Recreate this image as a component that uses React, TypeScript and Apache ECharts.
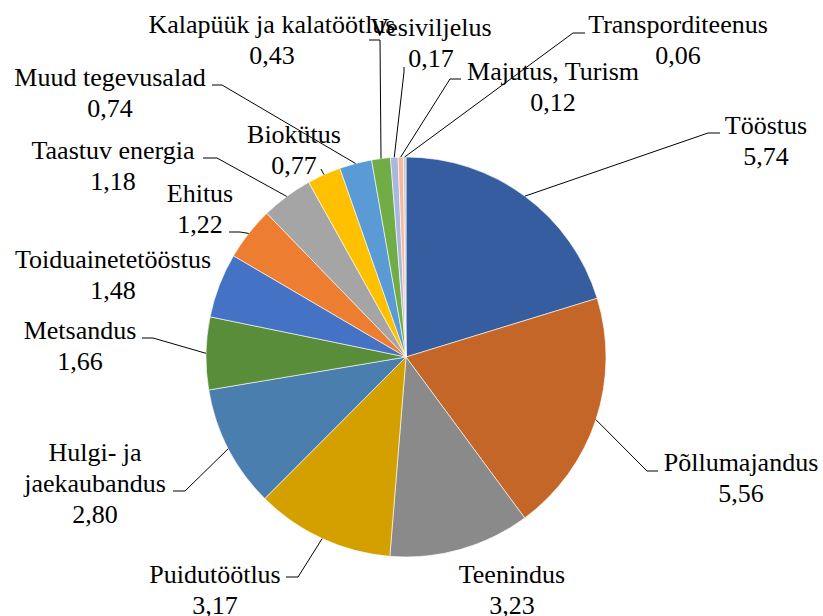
import React, { useEffect, useRef } from "react";
import * as echarts from "echarts";

const categories = [
  "Tööstus",
  "Põllumajandus",
  "Teenindus",
  "Puidutöötlus",
  "Hulgi- ja\njaekaubandus",
  "Metsandus",
  "Toiduainetetööstus",
  "Ehitus",
  "Taastuv energia",
  "Biokütus",
  "Muud tegevusalad",
  "Kalapüük ja kalatöötlus",
  "Vesiviljelus",
  "Majutus, Turism",
  "Transporditeenus",
];

const values = [5.74, 5.56, 3.23, 3.17, 2.8, 1.66, 1.48, 1.22, 1.18, 0.77, 0.74, 0.43, 0.17, 0.12, 0.06];

const colors = [
  "#365DA0", "#C46628", "#8A8A8A", "#D4A000", "#4A7EAF", "#5A8D3A", "#4472C4",
  "#ED7D31", "#A5A5A5", "#FFC000", "#5B9BD5", "#70AD47", "#A9B7DE", "#F4B8A0", "#C9C9C9",
];

// label block centres (layout only)
const labelPos: [number, number][] = [
  [766, 141], [741, 478], [512, 590], [215, 590], [95, 483], [80, 346], [113, 275],
  [200, 209], [113, 166], [294, 150], [110, 93], [272, 40], [431, 43], [553, 87], [678, 40],
];

// leader line elbows (layout only); null = no leader line
const leaderPts: ([number, number][] | null)[] = [
  [[708, 133], [720, 133]],
  [[647, 471], [658, 471]],
  null,
  [[298, 577], [286, 577]],
  [[185, 491], [173, 491]],
  [[153, 338], [142, 338]],
  null,
  [[240, 232], [229, 232]],
  [[217, 158], [203, 158]],
  [[322, 171], [321, 169]],
  [[222, 85], [212, 85]],
  [[380, 40], [369, 40]],
  [[404, 72], [404, 67]],
  [[450, 79], [461, 79]],
  [[573, 33], [585, 33]],
];

const CX = 406;
const CY = 357;
const R = 200;
const FONT = "Liberation Serif";
const FONT_SIZE = 26;
const LINE_H = 31;

export default function App() {
  const ref = useRef<HTMLDivElement>(null);
  useEffect(() => {
    if (!ref.current) return;
    const chart = echarts.init(ref.current, undefined, { renderer: "svg" });
    const total = values.reduce((a, b) => a + b, 0);
    const edges: [number, number][] = [];
    let cum = 0;
    values.forEach((v) => {
      const mid = ((cum + v / 2) / total) * Math.PI * 2;
      edges.push([CX + R * Math.sin(mid), CY - R * Math.cos(mid)]);
      cum += v;
    });

    const graphics: any[] = [];
    categories.forEach((name, i) => {
      const lines = name.split("\n").concat([values[i].toFixed(2).replace(".", ",")]);
      const [bx, by] = labelPos[i];
      lines.forEach((t, k) => {
        graphics.push({
          type: "text",
          x: bx,
          y: by + (k - (lines.length - 1) / 2) * LINE_H,
          z: 20,
          style: {
            text: t,
            font: FONT_SIZE + "px " + FONT,
            fontFamily: FONT,
            fontSize: FONT_SIZE,
            fill: "#000",
            align: "center",
            verticalAlign: "middle",
          },
        });
      });
      const pts = leaderPts[i];
      if (pts) {
        graphics.push({
          type: "polyline",
          z: 20,
          shape: { points: [edges[i], pts[0], pts[1]] },
          style: { stroke: "#000000", lineWidth: 1, fill: null },
        });
      }
    });

    chart.setOption({
      animation: false,
      graphic: graphics,
      series: [
        {
          type: "pie",
          center: [CX, CY],
          radius: R,
          startAngle: 90,
          clockwise: true,
          avoidLabelOverlap: false,
          data: categories.map((name, i) => ({
            name,
            value: values[i],
            itemStyle: { color: colors[i] },
          })),
          itemStyle: { borderColor: "#ffffff", borderWidth: 0.6 },
          label: { show: false },
          labelLine: { show: false },
        },
      ],
    });
    return () => chart.dispose();
  }, []);
  return (
    <div
      ref={ref}
      style={{ position: "absolute", left: 0, top: 0, width: 823, height: 616 }}
    />
  );
}
